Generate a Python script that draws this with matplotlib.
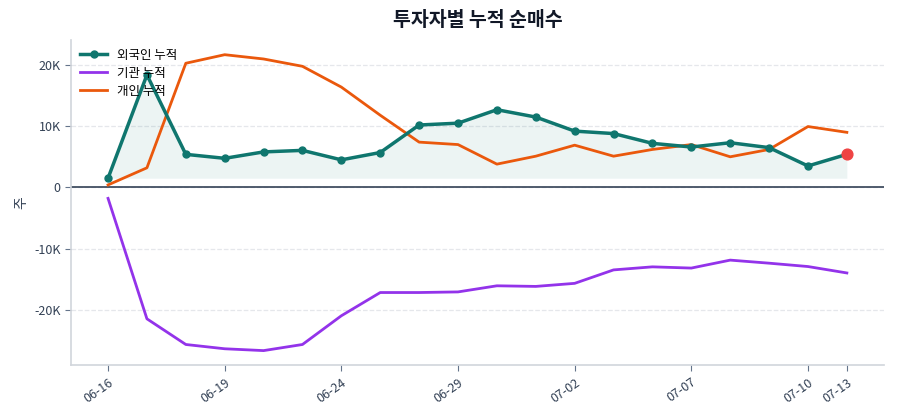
"""Cumulative net buying by investor type."""

import matplotlib
matplotlib.use("Agg")
import matplotlib.pyplot as plt
import numpy as np

plt.rcParams["font.family"] = ["Noto Sans CJK KR", "DejaVu Sans"]
plt.rcParams["axes.unicode_minus"] = False

dates = [
    "06-16", "06-17", "06-18", "06-19", "06-22", "06-23", "06-24", "06-25",
    "06-26", "06-29", "06-30", "07-01", "07-02", "07-03", "07-06", "07-07",
    "07-08", "07-09", "07-10", "07-13",
]
foreign_cum = [
    1500, 18400, 5400, 4750, 5800, 6050, 4500, 5700, 10200, 10500,
    12700, 11500, 9200, 8800, 7200, 6600, 7300, 6500, 3500, 5400,
]
institution_cum = [
    -1800, -21500, -25700, -26400, -26700, -25700, -21000, -17200, -17200, -17100,
    -16100, -16200, -15700, -13500, -13000, -13200, -11900, -12400, -12950, -14000,
]
individual_cum = [
    400, 3200, 20300, 21700, 21000, 19800, 16400, 11800, 7400, 7000,
    3800, 5100, 6900, 5100, 6200, 7000, 5000, 6200, 9950, 9000,
]
tick_idx = [0, 3, 6, 9, 12, 15, 18, 19]

x = np.arange(len(dates))
foreign = np.array(foreign_cum)

fig, ax = plt.subplots(figsize=(9, 4.2), dpi=100)

ax.fill_between(x, foreign, foreign.min(), color="#0f766e", alpha=0.08, linewidth=0)
ax.plot(x, foreign, color="#0f766e", linewidth=2.5, marker="o", markersize=5,
        label="외국인 누적", zorder=4)
ax.plot(x, institution_cum, color="#9333ea", linewidth=2, label="기관 누적", zorder=3)
ax.plot(x, individual_cum, color="#ea580c", linewidth=2, label="개인 누적", zorder=3)
ax.scatter([x[-1]], [foreign[-1]], s=60, color="#ef4444", zorder=5)

ax.axhline(0, color="#334155", linewidth=1.2, zorder=2)

ax.set_xticks(x[tick_idx])
ax.set_xticklabels([dates[i] for i in tick_idx], rotation=35, ha="right",
                   rotation_mode="anchor", fontsize=9, color="#334155")
ax.set_yticks([-20000, -10000, 0, 10000, 20000])
ax.set_yticklabels(["-20K", "-10K", "0", "10K", "20K"], fontsize=9, color="#334155")
ax.tick_params(axis="both", color="#64748b", length=4)

ax.set_ylabel("주", fontsize=10, color="#334155")
ax.set_title("투자자별 누적 순매수", fontsize=14, fontweight="bold", color="#111827", pad=10)

ax.grid(True, axis="y", linestyle="--", color="#e5e7eb", linewidth=0.9)
ax.set_axisbelow(True)
for side in ["top", "right"]:
    ax.spines[side].set_visible(False)
for side in ["left", "bottom"]:
    ax.spines[side].set_color("#d1d5db")
    ax.spines[side].set_linewidth(1.2)

ax.legend(loc="upper left", frameon=False, fontsize=9, handlelength=2.2,
          borderaxespad=0.3, labelspacing=0.4)

fig.subplots_adjust(left=0.079, right=0.982, top=0.905, bottom=0.13)
fig.savefig("out.png", dpi=100)
